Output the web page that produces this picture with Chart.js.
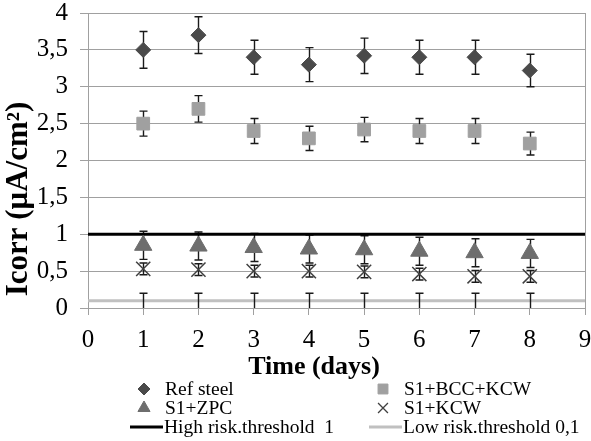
<!DOCTYPE html>
<html>
<head>
<meta charset="utf-8">
<script src="https://cdn.jsdelivr.net/npm/chart.js@4/dist/chart.umd.min.js"></script>
<style>
  html, body { margin: 0; padding: 0; background: #fff; }
  #wrap { width: 591px; height: 441px; }
</style>
</head>
<body>
<div id="wrap"><canvas id="icorr-chart" width="591" height="441"></canvas></div>
<script>
// Corrosion current density data
const days = [1, 2, 3, 4, 5, 6, 7, 8];
const refSteel = [3.5, 3.7, 3.4, 3.3, 3.42, 3.4, 3.4, 3.22];
const refSteelErr = [0.25, 0.25, 0.23, 0.23, 0.24, 0.23, 0.23, 0.22];
const bccKcw = [2.5, 2.7, 2.4, 2.3, 2.42, 2.4, 2.4, 2.23];
const bccKcwErr = [0.17, 0.18, 0.17, 0.165, 0.165, 0.17, 0.17, 0.155];
const zpc = [0.85, 0.84, 0.82, 0.8, 0.79, 0.77, 0.75, 0.74];
const zpcErr = [0.19, 0.19, 0.19, 0.19, 0.19, 0.19, 0.19, 0.19];
const kcw = [0.53, 0.52, 0.5, 0.5, 0.49, 0.46, 0.43, 0.43];
const kcwErr = [0.08, 0.08, 0.08, 0.08, 0.08, 0.08, 0.08, 0.08];

// Thresholds
const thresholdDays = [0, 1, 2, 3, 4, 5, 6, 7, 8, 9];
const highRisk = [1, 1, 1, 1, 1, 1, 1, 1, 1, 1];
const lowRisk = [0.1, 0.1, 0.1, 0.1, 0.1, 0.1, 0.1, 0.1, 0.1, 0.1];
const lowRiskErr = [null, 0.1, 0.1, 0.1, 0.1, 0.1, 0.1, 0.1, 0.1, null];

// Axis ticks
const xTicks = [0, 1, 2, 3, 4, 5, 6, 7, 8, 9];
const yTicks = [0, 0.5, 1, 1.5, 2, 2.5, 3, 3.5, 4];

const serif = "'Liberation Serif', 'Times New Roman', serif";
Chart.defaults.font.family = serif;
const toPoints = (xs, ys) => xs.map((x, i) => ({ x: x, y: ys[i] }));
const comma = v => String(v).replace('.', ',');

// Draw vertical error bars with caps
function drawErrors(chart, onTop) {
    const { ctx, scales: { x, y } } = chart;
    ctx.save();
    ctx.strokeStyle = '#1a1a1a';
    ctx.lineWidth = 1.4;
    chart.data.datasets.forEach(ds => {
        if (!ds.errors || !!ds.errorsOnTop !== onTop) return;
        ds.data.forEach((p, j) => {
            const e = ds.errors[j];
            if (e == null) return;
            const px = Math.round(x.getPixelForValue(p.x)) + 0.5;
            const top = y.getPixelForValue(p.y + e);
            const bot = y.getPixelForValue(p.y - e);
            ctx.beginPath();
            ctx.moveTo(px, top); ctx.lineTo(px, bot);
            ctx.moveTo(px - 4, top); ctx.lineTo(px + 4, top);
            // lower cap sits on the axis line when it reaches zero
            if (p.y - e > y.min) {
                ctx.moveTo(px - 4, bot); ctx.lineTo(px + 4, bot);
            }
            ctx.stroke();
        });
    });
    ctx.restore();
}

const errorBars = {
    id: 'errorBars',
    beforeDatasetsDraw(chart) {
        const { ctx, chartArea: a } = chart;
        // plot frame (top and right edges)
        ctx.save();
        ctx.strokeStyle = '#a0a0a0';
        ctx.lineWidth = 1;
        ctx.strokeRect(a.left + 0.5, a.top + 0.5, a.right - a.left, a.bottom - a.top);
        ctx.restore();
        drawErrors(chart, false);
    },
    afterDatasetsDraw(chart) {
        drawErrors(chart, true);
    }
};

// Titles and the two-column legend
const legendItems = [
    { text: 'Ref steel', kind: 'point', style: 'rectRot', r: 6, color: '#4a4a4a', col: 0, row: 0 },
    { text: 'S1+BCC+KCW', kind: 'point', style: 'rect', r: 7, color: '#a0a0a0', col: 1, row: 0 },
    { text: 'S1+ZPC', kind: 'point', style: 'triangle', r: 7, color: '#6e6e6e', col: 0, row: 1 },
    { text: 'S1+KCW', kind: 'point', style: 'crossRot', r: 7, color: '#404040', col: 1, row: 1 },
    { text: 'High risk.threshold  1', kind: 'line', color: '#000000', col: 0, row: 2 },
    { text: 'Low risk.threshold 0,1', kind: 'line', color: '#c0c0c0', col: 1, row: 2 }
];

const extras = {
    id: 'extras',
    afterDraw(chart) {
        const ctx = chart.ctx;
        ctx.save();
        ctx.fillStyle = '#000';
        // y title
        ctx.font = 'bold 31px ' + serif;
        ctx.textAlign = 'center';
        ctx.textBaseline = 'middle';
        ctx.translate(19, 199);
        ctx.rotate(-Math.PI / 2);
        ctx.fillText('Icorr (μA/cm²)', 0, 0);
        ctx.restore();

        ctx.save();
        ctx.fillStyle = '#000';
        ctx.font = 'bold 26px ' + serif;
        ctx.textAlign = 'center';
        ctx.textBaseline = 'alphabetic';
        ctx.fillText('Time (days)', 314, 374);

        // legend
        const colX = [144, 383];
        const rowY = [389, 408, 427];
        ctx.font = '19.5px ' + serif;
        ctx.textAlign = 'left';
        ctx.textBaseline = 'middle';
        legendItems.forEach(it => {
            const cx = colX[it.col], cy = rowY[it.row];
            if (it.kind === 'point') {
                ctx.fillStyle = it.color;
                ctx.strokeStyle = it.color;
                ctx.lineWidth = it.style === 'crossRot' ? 1.3 : 1;
                Chart.helpers.drawPoint(ctx, { pointStyle: it.style, radius: it.r, rotation: 0, borderWidth: ctx.lineWidth }, cx, cy);
            } else {
                ctx.strokeStyle = it.color;
                ctx.lineWidth = 3;
                ctx.beginPath();
                ctx.moveTo(cx - 14, cy);
                ctx.lineTo(cx + 19, cy);
                ctx.stroke();
            }
            ctx.fillStyle = '#000';
            ctx.fillText(it.text, cx + (it.kind === 'line' ? 20 : 21), cy + 1);
        });
        ctx.restore();
    }
};

const ctx = document.getElementById('icorr-chart').getContext('2d');
new Chart(ctx, {
    type: 'scatter',
    data: {
        datasets: [
            {
                label: 'Ref steel',
                data: toPoints(days, refSteel),
                errors: refSteelErr,
                pointStyle: 'rectRot',
                pointRadius: 7.5,
                backgroundColor: '#4a4a4a',
                borderColor: '#4a4a4a',
                borderWidth: 1
            },
            {
                label: 'S1+BCC+KCW',
                data: toPoints(days, bccKcw),
                errors: bccKcwErr,
                pointStyle: 'rect',
                pointRadius: 9,
                backgroundColor: '#a0a0a0',
                borderColor: '#a0a0a0',
                borderWidth: 1
            },
            {
                label: 'S1+ZPC',
                data: toPoints(days, zpc),
                errors: zpcErr,
                pointStyle: 'triangle',
                pointRadius: 10,
                backgroundColor: '#6e6e6e',
                borderColor: '#6e6e6e',
                borderWidth: 1
            },
            {
                label: 'S1+KCW',
                data: toPoints(days, kcw),
                errors: kcwErr,
                pointStyle: 'crossRot',
                pointRadius: 10,
                backgroundColor: '#404040',
                borderColor: '#404040',
                borderWidth: 1.5
            },
            {
                label: 'High risk.threshold  1',
                type: 'line',
                data: toPoints(thresholdDays, highRisk),
                borderColor: '#000000',
                borderWidth: 3,
                pointRadius: 0,
                fill: false
            },
            {
                label: 'Low risk.threshold 0,1',
                type: 'line',
                data: toPoints(thresholdDays, lowRisk),
                errors: lowRiskErr,
                errorsOnTop: true,
                borderColor: '#c0c0c0',
                borderWidth: 3,
                pointRadius: 0,
                fill: false
            }
        ]
    },
    options: {
        responsive: false,
        animation: false,
        events: [],
        layout: {
            autoPadding: false,
            padding: { top: 13, right: 6, left: 0, bottom: 0 }
        },
        plugins: {
            legend: { display: false },
            tooltip: { enabled: false }
        },
        scales: {
            x: {
                type: 'linear',
                min: 0,
                max: 9,
                afterBuildTicks: s => { s.ticks = xTicks.map(v => ({ value: v })); },
                afterFit: s => {
                    s.height = 133;
                    s.paddingLeft = 0;
                    s.paddingRight = 0;
                },
                grid: {
                    drawOnChartArea: false,
                    drawTicks: true,
                    tickLength: 7,
                    color: '#a0a0a0'
                },
                border: { color: '#a0a0a0', width: 1 },
                ticks: {
                    color: '#000',
                    padding: 1,
                    maxRotation: 0,
                    font: { family: serif, size: 25, lineHeight: 1.95 },
                    callback: v => comma(v)
                }
            },
            y: {
                min: 0,
                max: 4,
                afterBuildTicks: s => { s.ticks = yTicks.map(v => ({ value: v })); },
                afterFit: s => {
                    s.width = 88;
                    s.paddingTop = 0;
                    s.paddingBottom = 0;
                },
                grid: {
                    color: '#a0a0a0',
                    tickLength: 8
                },
                border: { color: '#a0a0a0', width: 1 },
                ticks: {
                    color: '#000',
                    padding: 12,
                    font: { family: serif, size: 25 },
                    callback: v => comma(v)
                }
            }
        }
    },
    plugins: [errorBars, extras]
});
</script>
</body>
</html>
